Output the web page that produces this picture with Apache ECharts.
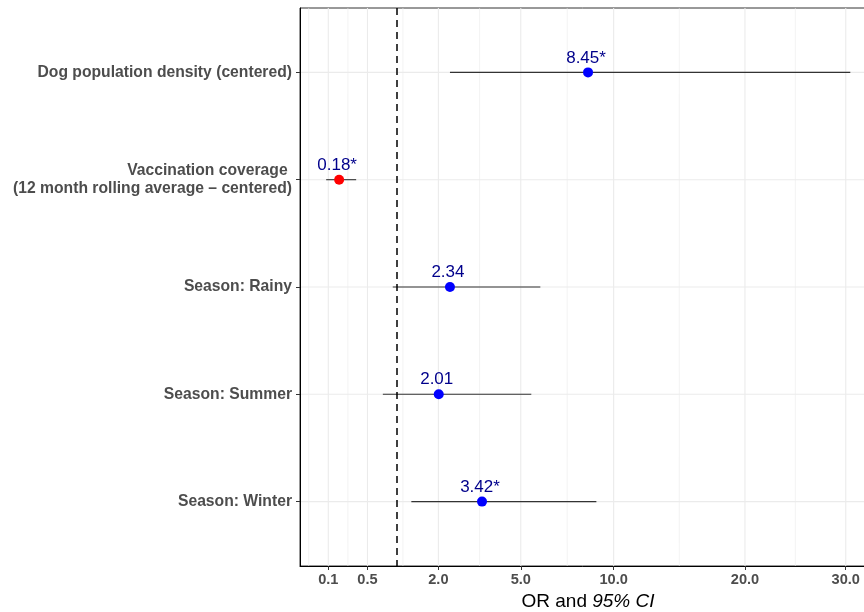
<!DOCTYPE html>
<html>
<head>
<meta charset="utf-8">
<script src="https://cdn.jsdelivr.net/npm/echarts@6/dist/echarts.min.js"></script>
<style>
html,body{margin:0;padding:0;background:#fff;overflow:hidden;}
#chart{width:864px;height:612px;}
</style>
</head>
<body>
<div id="chart"></div>
<script>
// ---- data ----
const categories = [
  'Dog population density (centered)',
  'Vaccination coverage \n(12 month rolling average – centered)',
  'Season: Rainy',
  'Season: Summer',
  'Season: Winter'
];
const orValues = [8.45, 0.18, 2.34, 2.01, 3.42];
const ciLower  = [2.34, 0.087, 0.92, 0.74, 1.31];
const ciUpper  = [30.5, 0.353, 5.91, 5.48, 8.94];
const pointLabels = ['8.45*', '0.18*', '2.34', '2.01', '3.42*'];
const significantNegative = [false, true, false, false, false];
const xTickValues = [0.1, 0.5, 2, 5, 10, 20, 30];
const xTickLabels = ['0.1', '0.5', '2.0', '5.0', '10.0', '20.0', '30.0'];
const referenceValue = 1;

// ---- sqrt scale helpers ----
const T = v => Math.sqrt(v);
const majorT = xTickValues.map(T);
const minorT = [];
minorT.push(majorT[0] - (majorT[1] - majorT[0]) / 2);
for (let i = 0; i < majorT.length - 1; i++) minorT.push((majorT[i] + majorT[i + 1]) / 2);
const catPos = categories.map((c, i) => i + 1);

const FONT = '"Liberation Sans", Arial, Helvetica, sans-serif';
const X_MIN = 0.034, X_MAX = 5.779, Y_MIN = 0.4, Y_MAX = 5.6;

const chart = echarts.init(document.getElementById('chart'), null, {renderer: 'canvas'});
chart.setOption({
  animation: false,
  backgroundColor: '#ffffff',
  textStyle: {fontFamily: FONT},
  grid: {
    left: 300, right: -12, top: 8, bottom: 46,
    containLabel: false, outerBoundsMode: 'none',
    show: true, borderColor: '#333333', borderWidth: 1
  },
  xAxis: {
    type: 'value',
    min: X_MIN, max: X_MAX,
    name: 'OR and {i|95% CI}',
    nameLocation: 'middle',
    nameGap: 23,
    nameTextStyle: {
      fontSize: 19, color: '#000', fontFamily: FONT,
      rich: {i: {fontSize: 19, fontStyle: 'italic', color: '#000', fontFamily: FONT}}
    },
    axisLine: {show: true, lineStyle: {color: '#000', width: 1}},
    axisTick: {show: true, length: 4, customValues: majorT, lineStyle: {color: '#333', width: 1}},
    axisLabel: {
      customValues: majorT,
      margin: 6,
      fontSize: 14.6, fontWeight: 'bold', color: '#4D4D4D', fontFamily: FONT,
      formatter: v => {
        const i = majorT.findIndex(t => Math.abs(t - v) < 1e-6);
        return i >= 0 ? xTickLabels[i] : '';
      }
    },
    splitLine: {show: false}
  },
  yAxis: {
    type: 'value',
    min: Y_MIN, max: Y_MAX,
    inverse: true,
    axisLine: {show: true, lineStyle: {color: '#000', width: 1}},
    axisTick: {show: true, length: 4, customValues: catPos, lineStyle: {color: '#333', width: 1}},
    axisLabel: {
      customValues: catPos,
      margin: 8,
      fontSize: 15.7, fontWeight: 'bold', color: '#4D4D4D', fontFamily: FONT,
      lineHeight: 17.5, align: 'right', padding: [3, 0, 0, 0],
      formatter: v => categories[Math.round(v) - 1] || ''
    },
    splitLine: {show: false}
  },
  series: [
    {
      // background grid lines (major + minor), drawn through the axes' scales
      type: 'custom', z: 0, silent: true,
      data: [[0]],
      renderItem: (params, api) => {
        const children = [];
        const addV = (v, w) => {
          const a = api.coord([v, Y_MIN]), b = api.coord([v, Y_MAX]);
          children.push({type: 'line', shape: {x1: a[0], y1: a[1], x2: b[0], y2: b[1]},
                         style: {stroke: '#EBEBEB', lineWidth: w}});
        };
        const addH = (v, w) => {
          const a = api.coord([X_MIN, v]), b = api.coord([X_MAX, v]);
          children.push({type: 'line', shape: {x1: a[0], y1: a[1], x2: b[0], y2: b[1]},
                         style: {stroke: '#EBEBEB', lineWidth: w}});
        };
        minorT.forEach(v => addV(v, 0.6));
        majorT.forEach(v => addV(v, 1.1));
        catPos.forEach(v => addH(v, 1.1));
        return {type: 'group', children};
      }
    },
    {
      type: 'scatter', data: [], z: 1, silent: true,
      markLine: {
        silent: true, symbol: 'none', label: {show: false}, animation: false,
        data: [{xAxis: T(referenceValue), lineStyle: {color: '#000', width: 1.5, type: [7, 5], opacity: 1}}]
      }
    },
    {
      type: 'custom', z: 2, silent: true,
      data: catPos.map((p, i) => [T(ciLower[i]), T(ciUpper[i]), p]),
      encode: {x: [0, 1], y: 2},
      renderItem: (params, api) => {
        const a = api.coord([api.value(0), api.value(2)]);
        const b = api.coord([api.value(1), api.value(2)]);
        return {type: 'line', shape: {x1: a[0], y1: a[1], x2: b[0], y2: b[1]},
                style: {stroke: '#333333', lineWidth: 1.1}};
      }
    },
    {
      type: 'scatter', z: 3, silent: true,
      symbol: 'circle', symbolSize: 10,
      itemStyle: {opacity: 1},
      data: catPos.map((p, i) => ({
        value: [T(orValues[i]), p],
        itemStyle: {color: significantNegative[i] ? '#FF0000' : '#0000FF', opacity: 1},
        label: {formatter: pointLabels[i]}
      })),
      label: {show: true, position: 'top', distance: 1, offset: [-2, 0], fontSize: 17, color: '#00008B', opacity: 1, fontFamily: FONT}
    }
  ]
});
</script>
</body>
</html>
